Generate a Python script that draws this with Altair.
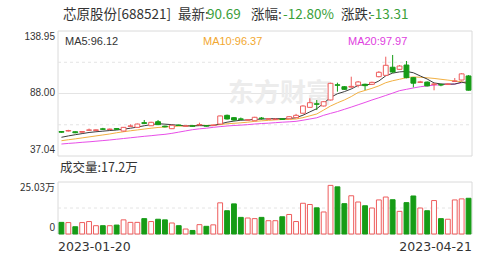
import altair as alt
import pandas as pd

dates = ["2023-01-20", "2023-01-30", "2023-01-31", "2023-02-01", "2023-02-02", "2023-02-03",
         "2023-02-06", "2023-02-07", "2023-02-08", "2023-02-09", "2023-02-10",
         "2023-02-13", "2023-02-14", "2023-02-15", "2023-02-16", "2023-02-17",
         "2023-02-20", "2023-02-21", "2023-02-22", "2023-02-23", "2023-02-24",
         "2023-02-27", "2023-02-28", "2023-03-01", "2023-03-02", "2023-03-03",
         "2023-03-06", "2023-03-07", "2023-03-08", "2023-03-09", "2023-03-10",
         "2023-03-13", "2023-03-14", "2023-03-15", "2023-03-16", "2023-03-17",
         "2023-03-20", "2023-03-21", "2023-03-22", "2023-03-23", "2023-03-24",
         "2023-03-27", "2023-03-28", "2023-03-29", "2023-03-30", "2023-03-31",
         "2023-04-03", "2023-04-04", "2023-04-06", "2023-04-07",
         "2023-04-10", "2023-04-11", "2023-04-12", "2023-04-13", "2023-04-14",
         "2023-04-17", "2023-04-18", "2023-04-19", "2023-04-20", "2023-04-21"]

opens = [57.0, 57.4, 56.8, 56.4, 58.0, 57.8, 59.2, 58.6, 59.4, 57.4,
         61.2, 60.4, 64.2, 61.7, 65.0, 61.4, 59.3, 62.3, 61.3, 61.6,
         62.4, 61.8, 61.9, 63.1, 70.2, 68.3, 67.3, 66.2, 65.8, 68.0,
         67.0, 66.8, 67.3, 67.4, 68.3, 71.9, 76.7, 79.6, 77.8, 82.7,
         95.1, 93.5, 93.2, 94.7, 95.5, 95.5, 101.7, 102.8, 109.4, 107.7,
         111.2, 100.9, 97.0, 97.3, 95.4, 95.2, 95.3, 97.8, 99.0, 102.3]
closes = [56.4, 57.8, 56.0, 57.0, 58.3, 58.4, 58.8, 59.0, 58.8, 60.4,
          61.6, 63.1, 63.6, 64.5, 62.6, 60.8, 62.1, 61.9, 61.6, 61.3,
          62.7, 61.4, 62.3, 69.7, 67.2, 66.4, 66.9, 66.6, 68.6, 67.6,
          67.4, 67.2, 66.9, 69.1, 70.2, 77.8, 80.5, 79.2, 81.3, 96.3,
          94.7, 91.4, 93.8, 97.4, 94.4, 97.1, 105.3, 111.0, 105.5, 110.4,
          100.9, 96.4, 97.5, 94.2, 95.8, 94.9, 95.8, 98.2, 104.0, 90.69]
highs = [57.4, 58.4, 57.0, 57.4, 59.4, 58.8, 60.0, 59.4, 59.6, 60.6,
         62.8, 63.5, 66.4, 64.9, 66.4, 61.8, 62.4, 62.6, 62.0, 61.9,
         64.2, 62.0, 62.7, 70.0, 70.8, 68.8, 68.4, 67.2, 69.0, 68.8,
         68.0, 67.6, 67.9, 69.6, 71.4, 78.4, 84.1, 82.7, 81.8, 96.8,
         96.8, 94.0, 101.7, 98.2, 96.0, 97.6, 106.2, 118.0, 119.4, 111.2,
         114.5, 101.4, 98.3, 97.8, 96.6, 96.0, 96.4, 100.6, 104.6, 103.0]
lows = [56.0, 57.0, 55.6, 56.0, 57.6, 57.6, 58.4, 58.3, 58.4, 57.0,
        60.8, 60.2, 63.2, 61.5, 62.2, 60.4, 59.0, 61.6, 61.0, 60.9,
        62.0, 61.0, 61.6, 62.8, 66.8, 65.8, 66.2, 65.8, 65.4, 66.6,
        66.6, 66.4, 66.4, 67.2, 68.0, 71.6, 76.4, 74.5, 77.4, 82.3,
        89.5, 91.0, 92.6, 93.0, 90.8, 95.2, 101.2, 102.4, 104.8, 107.2,
        100.4, 93.0, 96.7, 93.8, 90.6, 93.9, 95.0, 97.4, 98.6, 90.4]
volumes = [5.6, 5.5, 3.5, 5.5, 6.0, 4.0, 4.0, 4.0, 4.3, 6.8,
           5.6, 5.6, 7.4, 6.0, 7.1, 6.8, 5.3, 4.0, 2.4, 1.7,
           4.5, 3.7, 4.4, 15.0, 11.2, 14.5, 8.0, 7.7, 7.4, 8.0,
           6.4, 6.4, 8.3, 9.4, 6.0, 14.8, 14.2, 12.6, 10.6, 23.4,
           22.7, 14.6, 18.4, 15.4, 13.6, 12.5, 16.4, 17.8, 16.5, 10.9,
           15.1, 18.3, 12.5, 11.2, 16.1, 7.4, 7.1, 16.4, 16.9, 17.2]
ma5 = [52.3, 53.4, 54.4, 55.3, 56.2, 56.8, 57.3, 57.8, 58.2, 58.9,
       59.7, 60.6, 61.7, 62.6, 63.4, 63.0, 62.6, 62.0, 61.6, 61.5,
       61.8, 61.7, 61.8, 63.2, 64.6, 65.5, 66.2, 66.4, 66.9, 67.1,
       67.4, 67.5, 67.4, 67.6, 68.3, 70.3, 73.0, 75.6, 80.0, 84.8,
       87.8, 89.5, 91.7, 94.6, 95.1, 95.5, 98.2, 102.4, 104.6, 105.6,
       106.0, 104.9, 102.3, 99.8, 96.6, 95.8, 95.6, 95.7, 97.2, 96.12]
ma10 = [49.5, 50.3, 51.0, 51.8, 52.6, 53.4, 54.2, 55.0, 56.0, 56.8,
        57.6, 58.3, 59.0, 59.7, 60.3, 60.7, 61.1, 61.4, 61.6, 61.8,
        62.0, 62.0, 62.1, 62.6, 63.3, 63.7, 64.1, 64.6, 65.3, 65.7,
        66.1, 66.5, 66.8, 66.9, 67.2, 68.3, 69.8, 71.3, 74.5, 77.8,
        80.4, 82.7, 85.5, 88.8, 90.5, 92.2, 94.2, 96.8, 98.4, 99.6,
        100.9, 101.5, 101.2, 100.8, 100.3, 99.6, 98.9, 98.2, 97.6, 96.37]
ma20 = [46.8, 47.3, 47.7, 48.2, 48.6, 49.1, 49.6, 50.1, 50.7, 51.3,
        51.9, 52.5, 53.1, 53.6, 54.2, 54.7, 55.5, 56.5, 57.5, 58.5,
        59.2, 59.7, 60.4, 61.0, 61.5, 61.9, 62.2, 62.6, 63.1, 63.5,
        63.8, 64.2, 64.6, 64.9, 65.3, 66.2, 67.2, 68.2, 70.2, 71.8,
        73.3, 75.1, 76.9, 78.8, 80.7, 82.7, 84.5, 86.4, 88.3, 90.3,
        91.4, 92.5, 93.5, 94.2, 94.8, 95.2, 95.5, 95.7, 96.8, 97.97]

price_ticks = [138.95, 88.00, 37.04]
price_tick_labels = ["138.95", "88.00", "37.04"]
price_dashed = [113.4725, 62.5175]
vol_ticks = [25.03, 0]
vol_tick_labels = ["25.03万", "0"]
vol_dashed = [12.515]
date_labels = ["2023-01-20", "2023-04-21"]

RED = "#ee5c5c"
GREEN = "#169c16"
TXT = "#333333"
GRID = "#e4e4e4"
BORDER = "#dadada"
CJK = "Noto Sans CJK SC"
LAT = "Liberation Sans"

df = pd.DataFrame(dict(date=dates, open=opens, high=highs, low=lows, close=closes,
                       vol=volumes, ma5=ma5, ma10=ma10, ma20=ma20))
df["dir"] = ["up" if c >= o else "down" for o, c in zip(opens, closes)]

XS = alt.Scale(domain=dates, range=[58, 472], paddingInner=0.3, paddingOuter=0.15)
PS = alt.Scale(domain=[37.04, 138.95], range=[156, 31], nice=False, zero=False)
VS = alt.Scale(domain=[0, 25.03], range=[234, 182], nice=False, zero=False)

X = alt.X("date:N", scale=XS, axis=None, sort=dates)
fill_enc = alt.Color("dir:N", scale=alt.Scale(domain=["up", "down"], range=["#ffffff", GREEN]), legend=None)
stroke_enc = alt.Stroke("dir:N", scale=alt.Scale(domain=["up", "down"], range=[RED, GREEN]), legend=None)

one = pd.DataFrame({"k": [0]})


def box(y0, y1):
    return alt.Chart(one).mark_rect(fill="white", stroke=BORDER, strokeWidth=1).encode(
        x=alt.value(58), x2=alt.value(472), y=alt.value(y0), y2=alt.value(y1))


def label(text, x, y, color=TXT, size=11, font=LAT, align="left", baseline="middle", weight="normal"):
    return alt.Chart(one).mark_text(text=text, color=color, fontSize=size, font=font,
                                    align=align, baseline=baseline, fontWeight=weight).encode(
        x=alt.value(x), y=alt.value(y))


price_box = box(31, 156)
vol_box = box(182, 234)

grid_solid = alt.Chart(pd.DataFrame({"v": [88.00]})).mark_rule(color=GRID, strokeWidth=1).encode(
    y=alt.Y("v:Q", scale=PS, axis=None), x=alt.value(58), x2=alt.value(472))
grid_dash = alt.Chart(pd.DataFrame({"v": price_dashed})).mark_rule(color=GRID, strokeWidth=1, strokeDash=[3, 3]).encode(
    y=alt.Y("v:Q", scale=PS, axis=None), x=alt.value(58), x2=alt.value(472))
vgrid_dash = alt.Chart(pd.DataFrame({"v": vol_dashed})).mark_rule(color=GRID, strokeWidth=1, strokeDash=[3, 3]).encode(
    y=alt.Y("v:Q", scale=VS, axis=None), x=alt.value(58), x2=alt.value(472))

watermark = label("东方财富", 228, 94, color="#ececec", size=26, font=CJK, weight="bold")

base = alt.Chart(df)
wick = base.mark_rule(strokeWidth=1).encode(
    x=X, y=alt.Y("low:Q", scale=PS, axis=None), y2="high:Q", stroke=stroke_enc)
body = base.mark_bar(strokeWidth=1).encode(
    x=X, y=alt.Y("open:Q", scale=PS, axis=None), y2="close:Q", fill=fill_enc, stroke=stroke_enc)

line5 = base.mark_line(color="#3c3c3c", strokeWidth=1).encode(x=X, y=alt.Y("ma5:Q", scale=PS, axis=None))
line10 = base.mark_line(color="#f2b042", strokeWidth=1).encode(x=X, y=alt.Y("ma10:Q", scale=PS, axis=None))
line20 = base.mark_line(color="#e84ee8", strokeWidth=1).encode(x=X, y=alt.Y("ma20:Q", scale=PS, axis=None))

vbars = base.mark_bar(strokeWidth=1).encode(
    x=X, y=alt.Y("vol:Q", scale=VS, axis=None), y2=alt.datum(0), fill=fill_enc, stroke=stroke_enc)

ptl = pd.DataFrame({"v": price_ticks, "t": price_tick_labels})
ptop = alt.Chart(ptl.iloc[[0]]).mark_text(align="right", baseline="top", dy=1, fontSize=10, font=LAT, color=TXT).encode(
    y=alt.Y("v:Q", scale=PS, axis=None), x=alt.value(55), text="t:N")
pmid = alt.Chart(ptl.iloc[[1]]).mark_text(align="right", baseline="middle", fontSize=10, font=LAT, color=TXT).encode(
    y=alt.Y("v:Q", scale=PS, axis=None), x=alt.value(55), text="t:N")
pbot = alt.Chart(ptl.iloc[[2]]).mark_text(align="right", baseline="bottom", dy=-1, fontSize=10, font=LAT, color=TXT).encode(
    y=alt.Y("v:Q", scale=PS, axis=None), x=alt.value(55), text="t:N")

vtl = pd.DataFrame({"v": vol_ticks, "t": vol_tick_labels})
vtop = alt.Chart(vtl.iloc[[0]]).mark_text(align="right", baseline="top", dy=1, fontSize=10, font=CJK, color=TXT).encode(
    y=alt.Y("v:Q", scale=VS, axis=None), x=alt.value(55), text="t:N")
vbot = alt.Chart(vtl.iloc[[1]]).mark_text(align="right", baseline="bottom", dy=-1, fontSize=10, font=LAT, color=TXT).encode(
    y=alt.Y("v:Q", scale=VS, axis=None), x=alt.value(55), text="t:N")

dl = pd.DataFrame({"date": [dates[0], dates[-1]], "t": date_labels, "a": ["left", "right"]})
d0 = alt.Chart(dl.iloc[[0]]).mark_text(align="left", baseline="middle", fontSize=12.5, font="DejaVu Sans", color=TXT).encode(
    x=alt.value(58), y=alt.value(247), text="t:N")
d1 = alt.Chart(dl.iloc[[1]]).mark_text(align="right", baseline="middle", fontSize=12.5, font="DejaVu Sans", color=TXT).encode(
    x=alt.value(472), y=alt.value(247), text="t:N")

GT = "#3aa03a"
texts = [
    label("芯原股份[688521]", 63, 15, size=13.5, font=CJK),
    label("最新:", 178, 15, size=13.5, font=CJK),
    label("90.69", 207, 15, color=GT, size=13.5, font=CJK),
    label("涨幅:", 251, 15, size=13.5, font=CJK),
    label("-12.80%", 283, 15, color=GT, size=13.5, font=CJK),
    label("涨跌:", 341, 15, size=13.5, font=CJK),
    label("-13.31", 370, 15, color=GT, size=13.5, font=CJK),
    label("MA5:96.12", 65, 42, color="#333333", size=11, font=LAT),
    label("MA10:96.37", 203, 42, color="#f2a830", size=11, font=LAT),
    label("MA20:97.97", 348, 42, color="#e040e0", size=11, font=LAT),
    label("成交量:17.2万", 60, 168, size=12.5, font=CJK),
]

chart = alt.layer(
    price_box, vol_box, grid_dash, grid_solid, vgrid_dash, watermark,
    line20, line10, line5, wick, body, vbars,
    ptop, pmid, pbot, vtop, vbot, d0, d1, *texts
).resolve_scale(y="independent", fill="independent", stroke="independent").properties(
    width=499, height=261, autosize=alt.AutoSizeParams(type="none"), padding=0
).configure_view(stroke=None)

chart.save("out.html", embed_options={"renderer": "svg", "actions": False})
